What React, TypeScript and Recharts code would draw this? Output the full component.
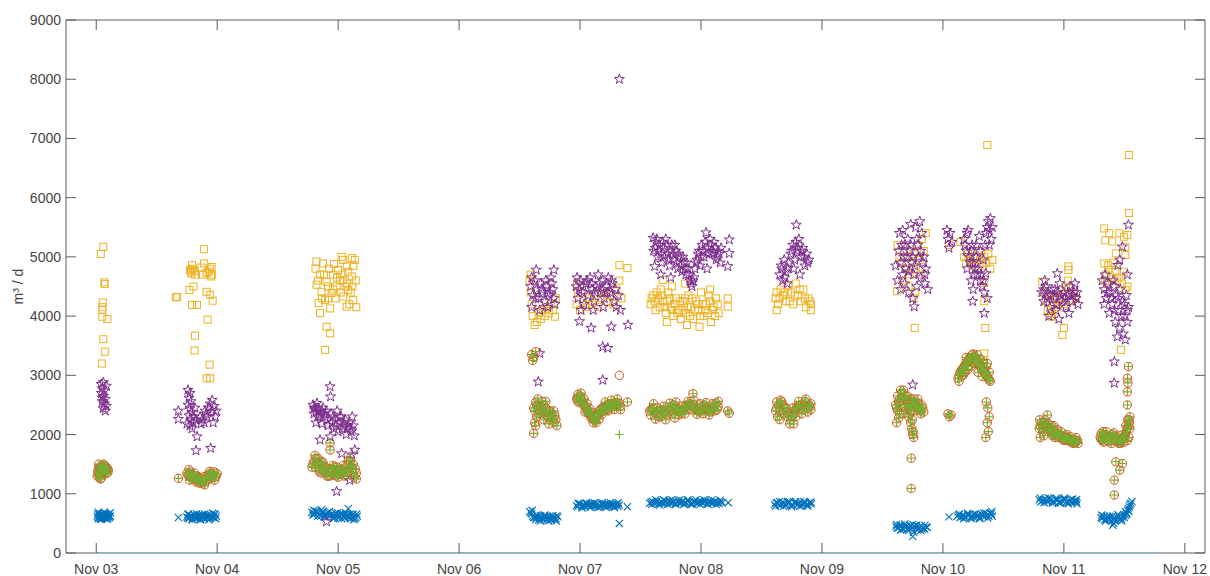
import React from "react";
import { ScatterChart, Scatter, XAxis, YAxis } from "recharts";

// hours are counted from Nov 03 00:00
const dayLabels = ["Nov 03", "Nov 04", "Nov 05", "Nov 06", "Nov 07", "Nov 08", "Nov 09", "Nov 10", "Nov 11", "Nov 12"];
const dayTicks = dayLabels.map((_, i) => i * 24);
const valueTicks = [0, 1000, 2000, 3000, 4000, 5000, 6000, 7000, 8000, 9000];

type Pt = [number, number];

// blue crosses
const flowA: Pt[] = [
  [0.2, 620], [0.4, 600], [0.6, 640], [0.8, 610], [1.0, 590], [1.2, 630], [1.4, 650], [1.6, 600], [1.8, 620], [2.0, 660], [2.2, 610], [2.4, 640], [2.6, 600], [2.8, 680],
  [0.3, 660], [0.5, 580], [0.7, 650], [0.9, 570], [1.1, 660], [1.3, 590], [1.5, 620], [1.7, 660], [1.9, 580], [2.1, 630], [2.3, 590], [2.5, 660], [2.7, 620],
  [0.4, 690], [1.0, 570], [1.6, 690], [2.2, 570], [2.8, 620],
  [16.3, 600], [18.0, 610], [18.4, 580], [18.8, 630], [19.2, 600], [19.6, 620], [20.0, 590], [20.4, 640], [20.8, 610], [21.2, 600], [21.6, 630], [22.0, 590], [22.4, 620], [22.8, 640], [23.2, 600], [23.6, 650],
  [18.2, 650], [18.6, 600], [19.0, 570], [19.4, 650], [19.8, 580], [20.2, 620], [20.6, 570], [21.0, 650], [21.4, 580], [21.8, 600], [22.2, 650], [22.6, 580], [23.0, 610], [23.4, 660], [23.8, 620], [18.1, 590], [19.5, 600], [20.9, 630], [22.3, 610],
  [18.3, 660], [19.1, 560], [19.9, 660], [20.7, 560], [21.5, 660], [22.3, 560], [23.1, 670], [23.7, 580],
  [42.8, 690], [43.3, 660], [43.8, 700], [44.3, 650], [44.8, 680], [45.3, 640], [45.8, 670], [46.3, 620], [46.8, 660], [47.3, 600], [47.8, 640], [48.3, 610], [48.8, 650], [49.3, 590], [49.8, 630], [50.3, 600], [50.8, 640], [51.3, 580], [51.8, 620], [50.0, 750],
  [43.0, 640], [43.5, 700], [44.0, 680], [44.5, 620], [45.0, 700], [45.5, 660], [46.0, 690], [46.5, 640], [47.0, 620], [47.5, 670], [48.0, 590], [48.5, 660], [49.0, 620], [49.5, 650], [50.0, 610], [50.5, 580], [51.0, 660], [51.5, 600], [43.2, 720], [45.2, 610], [47.2, 640], [49.2, 640], [51.0, 600],
  [43.1, 670], [43.9, 620], [44.7, 730], [45.5, 610], [46.3, 700], [47.1, 580], [47.9, 680], [48.7, 580], [49.5, 680], [50.3, 650], [51.1, 560], [51.7, 660],
  [86.0, 700], [86.4, 660], [86.8, 600], [87.2, 560], [87.6, 620], [88.0, 580], [88.4, 600], [88.8, 560], [89.2, 610], [89.6, 580], [90.0, 620], [90.4, 570], [90.8, 600], [91.2, 580], [91.6, 610],
  [86.2, 680], [86.6, 620], [87.0, 600], [87.4, 640], [87.8, 560], [88.2, 630], [88.6, 590], [89.0, 640], [89.4, 560], [89.8, 600], [90.2, 560], [90.6, 630], [91.0, 560], [91.4, 630],
  [86.5, 720], [87.3, 600], [88.1, 540], [88.9, 620], [89.7, 540], [90.5, 610], [91.3, 540],
  [95.3, 800], [95.8, 820], [96.3, 790], [96.8, 810], [97.3, 830], [97.8, 800], [98.3, 790], [98.8, 820], [99.3, 810], [99.8, 800], [100.3, 830], [100.8, 790], [101.3, 810], [101.8, 820], [102.3, 800], [102.8, 790], [103.3, 830], [103.8, 810], [103.8, 500], [105.4, 780],
  [95.5, 780], [96.0, 830], [96.5, 810], [97.0, 780], [97.5, 800], [98.0, 830], [98.5, 820], [99.0, 790], [99.5, 830], [100.0, 780], [100.5, 810], [101.0, 830], [101.5, 790], [102.0, 800], [102.5, 830], [103.0, 810], [103.5, 790],
  [95.6, 840], [96.4, 760], [97.2, 850], [98.0, 770], [98.8, 850], [99.6, 770], [100.4, 850], [101.2, 770], [102.0, 850], [102.8, 770], [103.6, 850],
  [109.8, 840], [110.4, 870], [111.0, 850], [111.6, 830], [112.2, 860], [112.8, 880], [113.4, 850], [114.0, 840], [114.6, 870], [115.2, 860], [115.8, 840], [116.4, 880], [117.0, 850], [117.6, 860], [118.2, 840], [118.8, 870], [119.4, 850], [120.0, 880], [120.6, 860], [121.2, 840], [121.8, 870], [122.4, 850], [123.0, 860], [123.6, 840], [125.4, 850],
  [110.1, 860], [110.7, 840], [111.3, 880], [111.9, 850], [112.5, 830], [113.1, 870], [113.7, 880], [114.3, 850], [114.9, 830], [115.5, 880], [116.1, 850], [116.7, 840], [117.3, 880], [117.9, 830], [118.5, 860], [119.1, 840], [119.7, 870], [120.3, 840], [120.9, 880], [121.5, 860], [122.1, 840], [122.7, 880], [123.3, 850], [123.9, 860], [124.2, 850],
  [110.2, 820], [111.0, 900], [111.8, 810], [112.6, 900], [113.4, 820], [114.2, 900], [115.0, 820], [115.8, 900], [116.6, 820], [117.4, 900], [118.2, 820], [119.0, 900], [119.8, 820], [120.6, 900], [121.4, 820], [122.2, 900], [123.0, 820], [123.8, 890],
  [134.6, 820], [135.2, 850], [135.8, 800], [136.4, 840], [137.0, 820], [137.6, 860], [138.2, 810], [138.8, 840], [139.4, 830], [140.0, 800], [140.6, 850], [141.2, 820], [141.8, 860],
  [134.9, 850], [135.5, 810], [136.1, 860], [136.7, 810], [137.3, 840], [137.9, 800], [138.5, 850], [139.1, 820], [139.7, 860], [140.3, 830], [140.9, 810], [141.5, 850],
  [134.8, 790], [135.6, 870], [136.4, 790], [137.2, 870], [138.0, 780], [138.8, 870], [139.6, 790], [140.4, 870], [141.2, 790], [141.9, 830],
  [158.7, 450], [159.2, 420], [159.7, 470], [160.2, 400], [160.7, 440], [161.2, 380], [161.7, 460], [162.0, 280], [162.2, 350], [162.7, 430], [163.2, 410], [163.7, 460], [164.2, 420], [164.7, 440],
  [158.9, 420], [159.4, 470], [159.9, 410], [160.4, 450], [160.9, 400], [161.4, 460], [161.9, 420], [162.4, 460], [162.9, 390], [163.4, 440], [163.9, 400], [164.4, 470], [164.9, 430],
  [158.8, 480], [159.6, 390], [160.4, 490], [161.2, 420], [162.0, 480], [162.8, 470], [163.6, 380], [164.4, 400],
  [169.2, 610], [170.8, 620], [171.4, 600], [172.0, 640], [172.6, 610], [173.2, 650], [173.8, 620], [174.4, 600], [175.0, 640], [175.6, 660], [176.2, 610], [176.8, 640], [177.4, 680], [177.8, 620],
  [171.1, 640], [171.7, 610], [172.3, 600], [172.9, 640], [173.5, 600], [174.1, 650], [174.7, 620], [175.3, 600], [175.9, 630], [176.5, 670], [177.1, 620], [177.6, 660],
  [171.3, 660], [172.1, 580], [172.9, 670], [173.7, 580], [174.5, 660], [175.3, 580], [176.1, 670], [176.9, 590], [177.7, 700],
  [187.1, 900], [187.7, 880], [188.3, 920], [188.9, 870], [189.5, 900], [190.1, 860], [190.7, 890], [191.3, 870], [191.9, 910], [192.5, 860], [193.1, 880], [193.7, 850], [194.3, 870], [194.6, 830],
  [187.4, 860], [188.0, 900], [188.6, 880], [189.2, 920], [189.8, 870], [190.4, 900], [191.0, 850], [191.6, 890], [192.2, 900], [192.8, 850], [193.4, 900], [194.0, 880], [194.5, 860],
  [187.3, 930], [188.1, 850], [188.9, 930], [189.7, 840], [190.5, 930], [191.3, 840], [192.1, 930], [192.9, 830], [193.7, 910], [194.5, 900],
  [199.4, 600], [199.9, 620], [200.4, 570], [200.9, 590], [201.4, 540], [201.7, 470], [202.0, 600], [202.4, 560], [202.9, 620], [203.4, 580], [203.9, 640], [204.2, 700], [204.5, 660], [204.8, 750], [205.1, 820], [205.5, 870],
  [199.6, 580], [200.1, 560], [200.6, 620], [201.1, 560], [201.6, 620], [202.2, 540], [202.6, 600], [203.1, 560], [203.6, 610], [204.0, 600], [204.4, 680], [204.7, 720], [205.0, 780], [205.3, 840], [201.9, 500],
  [199.5, 640], [200.3, 540], [201.1, 620], [201.9, 560], [202.7, 650], [203.5, 540], [204.3, 640], [204.9, 700],
];

// orange circles and green pluses share most readings
const flowBC: Pt[] = [
  [0.2, 1300], [0.4, 1350], [0.6, 1420], [0.8, 1450], [1.0, 1400], [1.2, 1380], [1.4, 1440], [1.6, 1470], [1.8, 1420], [2.0, 1390], [2.2, 1430], [2.4, 1400], [1.0, 1260], [0.6, 1280],
  [0.3, 1380], [0.5, 1440], [0.7, 1330], [0.9, 1390], [1.1, 1470], [1.3, 1350], [1.5, 1400], [1.7, 1380], [1.9, 1460], [2.1, 1420], [2.3, 1360],
  [0.5, 1500], [1.0, 1330], [1.5, 1500], [2.0, 1340], [0.8, 1250],
  [16.3, 1260], [18.4, 1410], [18.0, 1350], [18.4, 1300], [18.8, 1280], [19.2, 1320], [19.6, 1250], [20.0, 1220], [20.4, 1180], [20.8, 1200], [21.2, 1240], [21.6, 1190], [22.0, 1260], [22.4, 1300], [22.8, 1350], [23.2, 1320], [23.6, 1280], [24.0, 1340], [22.6, 1250], [21.4, 1290],
  [18.2, 1320], [18.6, 1370], [19.0, 1250], [19.4, 1300], [19.8, 1200], [20.2, 1260], [20.6, 1230], [21.0, 1180], [21.8, 1230], [22.2, 1330], [22.8, 1280], [23.4, 1370], [23.8, 1300],
  [18.5, 1230], [19.5, 1350], [20.5, 1280], [21.5, 1150], [22.5, 1380], [23.5, 1230], [20.0, 1300],
  [42.8, 1450], [43.2, 1550], [43.6, 1600], [44.0, 1500], [44.4, 1420], [44.8, 1480], [45.2, 1380], [45.6, 1350], [46.0, 1420], [46.4, 1300], [46.8, 1380], [47.2, 1450], [47.6, 1400], [48.0, 1330], [48.4, 1380], [48.8, 1420], [49.2, 1300], [49.6, 1360], [50.0, 1480], [50.4, 1550], [50.8, 1420], [51.2, 1280], [51.6, 1350], [46.4, 1740], [46.4, 1860],
  [43.0, 1500], [43.4, 1450], [43.8, 1520], [44.2, 1380], [44.6, 1550], [45.0, 1420], [45.4, 1450], [45.8, 1300], [46.2, 1370], [46.6, 1420], [47.0, 1320], [47.4, 1350], [47.8, 1450], [48.2, 1400], [48.6, 1330], [49.0, 1370], [49.4, 1410], [49.8, 1300], [50.2, 1380], [50.6, 1450], [51.0, 1350], [51.4, 1420],
  [43.4, 1650], [44.0, 1600], [45.0, 1530], [46.0, 1300], [47.0, 1480], [48.0, 1280], [49.0, 1480], [50.0, 1560], [50.4, 1600], [51.0, 1500], [51.6, 1250], [44.6, 1350], [47.6, 1300],
  [86.4, 3350], [86.6, 3250], [86.8, 3300], [87.2, 3400],
  [86.8, 2450], [87.2, 2550], [87.6, 2500], [88.0, 2400], [88.4, 2350], [88.8, 2500], [89.2, 2450], [89.6, 2300], [90.0, 2250], [90.4, 2350], [90.8, 2200], [91.2, 2250], [87.0, 2200], [87.4, 2300], [86.8, 2020],
  [87.0, 2400], [87.4, 2480], [87.8, 2350], [88.2, 2480], [88.6, 2420], [89.0, 2380], [89.4, 2330], [89.8, 2400], [90.2, 2300], [90.6, 2280], [91.0, 2320],
  [87.6, 2600], [88.4, 2560], [89.2, 2560], [90.0, 2400], [90.8, 2400], [88.8, 2250], [89.8, 2180], [87.2, 2150], [91.4, 2150],
  [95.3, 2600], [95.6, 2680], [96.0, 2650], [96.4, 2580], [96.8, 2520], [97.2, 2450], [97.6, 2400], [98.0, 2330], [98.4, 2280], [98.8, 2250], [99.2, 2300], [99.6, 2350], [100.0, 2420], [100.4, 2450], [100.8, 2400], [101.2, 2480], [101.6, 2500], [102.0, 2450], [102.4, 2520], [102.8, 2500], [103.2, 2540], [103.6, 2500], [104.0, 2480], [105.4, 2550],
  [95.5, 2620], [95.8, 2560], [96.2, 2600], [96.6, 2500], [97.0, 2480], [97.4, 2380], [97.8, 2350], [98.2, 2280], [98.6, 2320], [99.0, 2230], [99.4, 2320], [99.8, 2400], [100.2, 2380], [100.6, 2460], [101.0, 2440], [101.4, 2420], [101.8, 2520], [102.2, 2470], [102.6, 2480], [103.0, 2520], [103.4, 2480], [103.8, 2530],
  [95.6, 2550], [96.2, 2700], [96.8, 2600], [97.4, 2520], [98.0, 2430], [98.6, 2200], [99.2, 2200], [99.8, 2260], [100.4, 2350], [101.0, 2550], [101.6, 2400], [102.2, 2580], [102.8, 2420], [103.4, 2600], [104.0, 2420], [97.0, 2380], [98.2, 2380],
  [109.8, 2400], [110.4, 2450], [111.0, 2380], [111.6, 2300], [112.2, 2420], [112.8, 2350], [113.4, 2460], [114.0, 2400], [114.6, 2500], [115.2, 2450], [115.8, 2380], [116.4, 2420], [117.0, 2470], [117.6, 2520], [118.2, 2480], [118.4, 2690], [118.8, 2440], [119.4, 2400], [120.0, 2460], [120.6, 2500], [121.2, 2420], [121.8, 2380], [122.4, 2450], [123.0, 2530], [123.4, 2470], [125.3, 2400], [125.6, 2360], [113.0, 2250], [114.8, 2280], [111.0, 2260],
  [110.1, 2420], [110.7, 2380], [111.3, 2350], [111.9, 2400], [112.5, 2380], [113.1, 2400], [113.7, 2420], [114.3, 2460], [114.9, 2430], [115.5, 2400], [116.1, 2350], [116.7, 2450], [117.3, 2430], [117.9, 2480], [118.5, 2500], [119.1, 2420], [119.7, 2380], [120.3, 2420], [120.9, 2450], [121.5, 2400], [122.1, 2410], [122.7, 2480], [123.2, 2420],
  [110.0, 2330], [110.6, 2520], [111.4, 2450], [112.0, 2300], [112.6, 2480], [113.2, 2330], [113.8, 2530], [114.4, 2350], [115.0, 2550], [115.6, 2330], [116.2, 2480], [116.8, 2350], [117.4, 2560], [118.0, 2420], [118.6, 2580], [119.2, 2340], [119.8, 2520], [120.4, 2350], [121.0, 2540], [121.6, 2330], [122.2, 2520], [122.8, 2400], [123.4, 2560],
  [134.8, 2400], [135.4, 2500], [136.0, 2550], [136.6, 2450], [137.2, 2300], [137.8, 2250], [138.4, 2350], [138.4, 2180], [139.0, 2450], [139.6, 2500], [140.2, 2420], [140.8, 2600], [141.4, 2500], [141.8, 2420], [135.2, 2300], [135.6, 2250],
  [135.0, 2450], [135.7, 2400], [136.3, 2500], [136.9, 2380], [137.5, 2350], [138.1, 2300], [138.7, 2400], [139.3, 2480], [139.9, 2450], [140.5, 2500], [141.1, 2450], [141.6, 2480],
  [135.0, 2550], [135.8, 2580], [136.4, 2350], [137.0, 2450], [137.6, 2180], [138.2, 2450], [138.8, 2300], [139.4, 2560], [140.0, 2350], [140.6, 2560], [141.2, 2380], [141.8, 2520],
  [158.6, 2500], [159.0, 2400], [159.4, 2600], [159.8, 2700], [160.2, 2750], [160.6, 2650], [161.0, 2550], [161.4, 2450], [161.8, 2500], [162.2, 2600], [162.6, 2550], [163.0, 2450], [163.4, 2400], [163.8, 2500], [164.2, 2380], [161.2, 2300], [161.6, 2200], [161.8, 2100], [162.0, 2000], [162.2, 1950], [158.8, 2200], [159.2, 2280], [161.7, 1600], [161.7, 1090],
  [158.8, 2450], [159.2, 2550], [159.6, 2500], [160.0, 2620], [160.4, 2600], [160.8, 2500], [161.2, 2480], [161.6, 2400], [162.0, 2550], [162.4, 2500], [162.8, 2480], [163.2, 2520], [163.6, 2430], [161.4, 2350], [161.9, 2250], [162.1, 2050],
  [159.0, 2650], [159.6, 2750], [160.4, 2450], [161.0, 2650], [161.6, 2600], [162.4, 2400], [163.0, 2600], [163.6, 2350], [164.0, 2450], [160.2, 2350], [159.4, 2350],
  [169.0, 2350], [169.3, 2300], [169.6, 2330],
  [171.0, 2950], [171.4, 3050], [171.8, 3100], [172.2, 3150], [172.6, 3200], [173.0, 3250], [173.4, 3300], [173.8, 3350], [174.2, 3320], [174.6, 3250], [175.0, 3200], [175.4, 3150], [175.8, 3100], [176.2, 3050], [176.6, 3000], [177.0, 2950], [177.4, 2900], [172.0, 3000], [176.8, 3200],
  [171.2, 3000], [171.6, 3080], [172.0, 3120], [172.4, 3180], [172.8, 3230], [173.2, 3280], [173.6, 3300], [174.0, 3360], [174.4, 3300], [174.8, 3230], [175.2, 3180], [175.6, 3120], [176.0, 3080], [176.4, 3020], [176.8, 2980], [177.2, 2920], [173.0, 3150], [175.0, 3050], [176.0, 3250],
  [171.2, 2900], [171.8, 3000], [172.4, 3050], [173.0, 3100], [173.6, 3150], [174.2, 3200], [174.8, 3350], [175.4, 3280], [176.0, 3200], [176.6, 3150], [177.2, 3050], [174.0, 3250], [172.6, 3300], [175.8, 2980],
  [176.6, 2550], [176.9, 2450], [177.2, 2300], [176.8, 2200], [177.0, 2050], [176.5, 1950],
  [187.1, 2100], [187.5, 2200], [187.9, 2150], [188.3, 2250], [188.7, 2330], [189.1, 2100], [189.5, 2050], [189.9, 2000], [190.3, 2050], [190.7, 1980], [191.1, 2000], [191.5, 1950], [191.9, 1980], [192.3, 1920], [192.7, 1950], [193.1, 1900], [193.5, 1880], [193.9, 1920], [194.3, 1870], [194.7, 1900], [187.3, 1950], [188.0, 1980], [190.0, 2150],
  [187.3, 2150], [187.7, 2100], [188.1, 2200], [188.5, 2150], [188.9, 2050], [189.3, 2080], [189.7, 1980], [190.1, 2000], [190.5, 2020], [190.9, 1950], [191.3, 1980], [191.7, 1920], [192.1, 1950], [192.5, 1900], [192.9, 1920], [193.3, 1880], [193.7, 1900], [194.1, 1860], [194.5, 1880],
  [187.2, 2250], [187.8, 2050], [188.4, 2100], [189.0, 2180], [189.6, 2150], [190.2, 1950], [190.8, 2080], [191.4, 2050], [192.0, 1900], [192.6, 2000], [193.2, 1970], [193.8, 1850], [194.4, 1950], [194.8, 1850],
  [204.8, 3150], [204.6, 2950], [204.7, 2870], [204.6, 2720], [204.6, 2500],
  [199.2, 1950], [199.6, 1900], [200.0, 2000], [200.4, 1950], [200.8, 1880], [201.2, 1920], [201.6, 2000], [202.0, 1950], [202.4, 1880], [202.8, 1900], [203.2, 1850], [203.6, 1920], [204.0, 1950], [204.4, 2050], [204.8, 2150], [205.0, 2200], [204.6, 1900], [199.8, 2050],
  [199.4, 1920], [199.8, 1980], [200.2, 1950], [200.6, 1900], [201.0, 1960], [201.4, 1900], [201.8, 1950], [202.2, 1900], [202.6, 1930], [203.0, 1880], [203.4, 1900], [203.8, 1960], [204.2, 2000], [204.6, 2100], [204.9, 2250], [205.1, 2100],
  [199.4, 2020], [199.9, 1870], [200.4, 2050], [200.9, 1980], [201.4, 1850], [201.9, 2030], [202.4, 1980], [202.9, 1850], [203.4, 1990], [203.9, 1870], [204.3, 2150], [204.7, 2250], [205.1, 2300], [204.9, 1950],
  [202.3, 1540], [203.6, 1510], [203.1, 1400], [202.0, 1230], [202.0, 980],
];
const flowBOnly: Pt[] = [[103.8, 3000]];
const flowCOnly: Pt[] = [[103.8, 2000]];

// yellow squares
const flowD: Pt[] = [
  [1.4, 5170], [0.9, 5050], [1.6, 4570], [1.7, 4540], [1.3, 4230], [1.2, 4150], [1.2, 4100], [1.2, 3990], [2.2, 3950], [1.4, 3610], [1.7, 3400], [1.1, 3200],
  [21.4, 5130], [19.0, 4860], [21.4, 4890], [22.9, 4830], [18.8, 4750], [19.6, 4700], [21.9, 4730], [22.8, 4670], [19.3, 4500], [18.5, 4440], [21.9, 4410], [22.6, 4360], [23.1, 4260], [16.1, 4320], [15.8, 4320], [19.0, 4190], [20.0, 4190], [22.1, 3940], [19.6, 3670], [19.5, 3420], [22.5, 3180], [21.9, 2950], [22.6, 2950],
  [18.6, 4780], [18.9, 4720], [19.2, 4800], [19.5, 4760], [20.9, 4820], [21.2, 4700], [22.3, 4750], [22.6, 4800], [23.0, 4700],
  [48.7, 5000], [50.7, 4980], [51.3, 4950], [43.7, 4920], [45.0, 4890], [49.7, 4840], [48.0, 4780], [47.0, 4700], [44.4, 4700], [50.7, 4670], [49.0, 4610], [45.7, 4580], [43.7, 4530], [47.7, 4500], [50.0, 4440], [44.7, 4410], [46.7, 4390], [49.0, 4330], [51.0, 4270], [45.4, 4270], [44.1, 4220], [46.4, 4130], [49.7, 4160], [44.4, 4050], [45.7, 3820], [46.4, 3710], [45.4, 3430],
  [47.2, 4880], [48.4, 4600], [49.5, 4500], [50.5, 4400], [51.5, 4600], [46.0, 4500], [44.8, 4300], [47.5, 4300], [50.2, 4200], [51.6, 4150], [43.5, 4800], [49.0, 4950], [50.0, 4750], [51.0, 4850],
  [44.0, 4600], [45.2, 4700], [46.2, 4800], [47.8, 4650], [48.8, 4700], [49.8, 4550], [50.8, 4500], [47.0, 4450], [46.0, 4300], [48.5, 4400],
  [86.0, 4600], [86.2, 4400], [86.4, 4200], [86.6, 4000], [87.0, 3850], [87.4, 3900], [87.8, 4050], [88.2, 3950], [88.6, 4100], [89.0, 4000], [89.4, 4150], [89.8, 4050], [90.2, 4200], [90.6, 4100], [91.0, 3990], [91.2, 4300], [86.2, 4700],
  [95.3, 4200], [95.6, 4400], [96.0, 4100], [96.6, 4250], [97.2, 4150], [97.8, 4300], [98.4, 4200], [99.0, 4350], [99.6, 4150], [100.2, 4300], [100.8, 4400], [101.4, 4250], [102.0, 4350], [102.6, 4200], [103.2, 4450], [103.8, 4600], [103.8, 4860], [105.4, 4810], [95.4, 4550], [104.2, 4300],
  [110.0, 4200], [110.5, 4350], [111.0, 4100], [111.5, 4300], [112.0, 4450], [112.5, 4250], [113.0, 4050], [113.5, 4400], [114.0, 4150], [114.5, 4000], [115.0, 4300], [115.5, 4100], [116.0, 3950], [116.5, 4250], [117.0, 4050], [117.5, 4350], [118.0, 4150], [118.5, 3950], [119.0, 4250], [119.5, 4100], [120.0, 4400], [120.5, 4000], [121.0, 4200], [121.5, 4350], [122.0, 3900], [122.5, 4150], [123.0, 4300], [123.5, 4050], [112.4, 4610], [119.7, 3820], [125.3, 4300], [125.3, 4160], [114.2, 4500], [116.8, 4550], [121.8, 4450], [113.2, 3900], [117.2, 3850],
  [110.2, 4300], [110.8, 4250], [111.2, 4400], [111.8, 4150], [112.2, 4350], [112.8, 4150], [113.3, 4250], [113.8, 4300], [114.3, 4100], [114.8, 4200], [115.3, 4050], [115.8, 4250], [116.3, 4100], [116.8, 4300], [117.3, 4150], [117.8, 4000], [118.3, 4300], [118.8, 4100], [119.3, 4200], [119.8, 4000], [120.3, 4200], [120.8, 4100], [121.3, 4050], [121.8, 4250], [122.3, 4100], [122.8, 4000], [123.3, 4200],
  [134.8, 4300], [135.3, 4200], [135.8, 4450], [136.3, 4350], [136.8, 4250], [137.3, 4500], [137.8, 4400], [138.3, 4200], [138.8, 4550], [139.3, 4350], [139.8, 4250], [140.3, 4450], [140.8, 4150], [141.3, 4300], [141.8, 4100], [141.8, 4200], [135.0, 4100],
  [135.0, 4400], [135.6, 4300], [136.6, 4400], [137.6, 4250], [138.6, 4350], [139.6, 4450], [140.6, 4300], [141.6, 4250],
  [159.0, 5200], [159.4, 5000], [159.8, 4900], [160.2, 5100], [160.6, 4800], [161.0, 5000], [161.4, 4700], [161.8, 4900], [162.2, 5050], [162.6, 4800], [163.0, 5200], [163.4, 4950], [163.8, 5300], [164.2, 5100], [164.6, 5400], [160.0, 4600], [161.2, 4500], [158.9, 4420], [162.5, 4400], [162.2, 4300], [162.4, 3800], [163.6, 4700],
  [176.8, 6890], [169.2, 5200], [172.2, 5000], [172.6, 4900], [173.0, 5050], [173.4, 4950], [173.8, 4850], [174.2, 5000], [174.6, 4900], [175.0, 5100], [175.4, 4950], [175.8, 4850], [176.2, 5000], [176.6, 4900], [177.0, 5050], [177.4, 4800], [177.8, 4950], [171.5, 5250], [176.2, 4560], [176.2, 4250], [176.4, 3800], [176.2, 3370],
  [188.0, 4400], [188.4, 4250], [188.8, 4100], [189.2, 4300], [189.6, 4050], [190.0, 4200], [190.4, 4350], [190.8, 4150], [191.2, 4300], [191.6, 4450], [192.0, 4200], [192.4, 4500], [192.8, 4600], [193.2, 4350], [193.6, 4250], [194.0, 4400], [194.4, 4300], [192.9, 4840], [192.9, 4780], [187.7, 4580], [192.0, 3800], [191.7, 3680], [189.7, 3990], [189.4, 4000],
  [204.9, 6720], [204.9, 5740], [200.0, 5480], [201.0, 5400], [203.0, 5400], [204.6, 5370], [200.2, 5280], [201.6, 5260], [203.9, 5340], [204.2, 5170], [202.3, 5060], [204.2, 5030], [200.0, 4890], [200.8, 4860], [203.9, 4750], [200.4, 4700], [201.0, 4780], [204.6, 4500], [204.2, 4440], [200.2, 4600], [200.6, 4550], [201.4, 4650], [201.8, 4900], [202.2, 4750], [202.6, 4600], [203.0, 4650], [203.5, 4550], [203.3, 3430],
];

// purple stars
const flowE: Pt[] = [
  [1.0, 2850], [1.4, 2880], [2.0, 2820], [1.2, 2780], [1.6, 2740], [1.0, 2700], [1.4, 2650], [1.8, 2600], [1.2, 2560], [1.6, 2520], [2.0, 2480], [1.4, 2440], [1.8, 2400], [1.2, 2620],
  [16.3, 2400], [16.3, 2260],
  [18.2, 2750], [18.6, 2700], [18.4, 2620], [18.8, 2560], [18.2, 2500], [18.6, 2440], [19.0, 2380], [18.4, 2320], [18.8, 2260], [19.2, 2200], [18.6, 2150], [19.0, 2100], [19.4, 2300], [19.6, 2450], [18.0, 2180], [19.8, 2250],
  [20.6, 2300], [21.0, 2250], [21.4, 2200], [21.8, 2350], [22.2, 2450], [22.6, 2520], [23.0, 2580], [23.4, 2480], [23.8, 2400], [22.0, 2300], [21.6, 2400], [22.8, 2380], [23.2, 2200], [20.8, 2180], [23.6, 2300],
  [20.0, 1965], [19.8, 1730], [22.7, 1770],
  [46.4, 2810], [46.5, 2640],
  [43.0, 2500], [43.4, 2450], [43.8, 2530], [44.2, 2400], [44.6, 2350], [45.0, 2450], [45.4, 2300], [45.8, 2250], [43.6, 2200], [44.0, 2300], [44.8, 2180], [45.6, 2400], [46.0, 2150], [43.2, 2350],
  [43.2, 2450], [43.6, 2400], [44.0, 2450], [44.4, 2300], [44.8, 2400], [45.2, 2350], [46.8, 2200], [47.6, 2150], [48.4, 2300], [49.2, 2200], [50.0, 2150], [50.4, 2100], [48.8, 2100],
  [46.6, 2350], [47.0, 2300], [47.4, 2250], [47.8, 2400], [48.2, 2200], [48.6, 2300], [49.0, 2150], [49.4, 2250], [49.8, 2100], [50.2, 2200], [50.6, 2050], [51.0, 2150], [47.2, 2100], [48.0, 2050], [49.6, 2000], [50.8, 2300], [51.2, 1980],
  [44.4, 1910], [46.4, 1965], [48.7, 1680], [50.7, 1660], [51.3, 1740], [47.7, 1040], [50.3, 1230], [45.7, 530],
  [87.3, 4780], [90.8, 4780], [86.2, 4500], [86.6, 4350], [87.0, 4600], [87.4, 4450], [87.8, 4300], [88.2, 4550], [88.6, 4400], [89.0, 4250], [89.4, 4500], [89.8, 4350], [90.2, 4650], [90.6, 4450], [91.0, 4200], [86.4, 4150], [88.0, 4100], [89.6, 4150], [90.4, 4550], [88.0, 3370], [87.7, 2890],
  [86.4, 4650], [87.2, 4300], [88.4, 4450], [89.2, 4600], [90.0, 4400], [90.8, 4300],
  [95.2, 4500], [95.6, 4300], [96.0, 4600], [96.4, 4400], [96.8, 4200], [97.2, 4550], [97.6, 4350], [98.0, 4650], [98.4, 4450], [98.8, 4250], [99.2, 4500], [99.6, 4700], [100.0, 4400], [100.4, 4600], [100.8, 4300], [101.2, 4500], [101.6, 4650], [102.0, 4400], [102.4, 4550], [102.8, 4250], [103.2, 4150], [103.6, 4350], [104.0, 4100], [96.2, 4100], [98.6, 4100], [100.6, 4150],
  [95.4, 4650], [95.8, 4450], [96.6, 4500], [97.4, 4600], [98.2, 4550], [99.0, 4400], [99.8, 4550], [100.6, 4450], [101.4, 4400], [102.2, 4600], [103.0, 4450],
  [95.9, 3910], [98.2, 3800], [102.2, 3820], [105.5, 3850], [100.5, 3480], [101.5, 3460], [100.5, 2920], [103.8, 8000],
  [110.5, 5320], [110.8, 4840], [110.6, 5100], [111.0, 5250], [111.4, 5000], [111.8, 5200], [112.2, 4900], [112.6, 5150], [113.0, 5300], [113.4, 5050], [113.8, 4850], [114.2, 5200], [114.6, 4950], [115.0, 5100], [115.4, 4800], [115.8, 5000], [116.2, 4750], [116.6, 4900], [117.0, 4700], [117.4, 4800], [117.8, 4600], [118.2, 4500], [118.6, 4650], [119.0, 4900], [119.4, 5050], [119.8, 4850], [120.2, 5200], [120.6, 5000], [121.0, 5410], [121.4, 5150], [121.8, 5300], [122.2, 5050], [122.6, 5250], [123.0, 4950], [123.4, 5100], [123.8, 4900], [124.0, 5150], [112.0, 4700], [114.0, 4650], [121.2, 4800], [125.6, 5290], [125.6, 5060], [125.3, 4840],
  [110.9, 5150], [111.2, 5300], [111.6, 5100], [112.0, 5050], [112.4, 5250], [112.8, 5000], [113.2, 5200], [113.6, 4950], [114.0, 5100], [114.4, 5050], [114.8, 5200], [115.2, 4900], [115.6, 5050], [116.0, 4850], [116.4, 5000], [116.8, 4800], [117.2, 4900], [117.6, 4700], [118.0, 4550], [118.4, 4600], [118.8, 4800], [119.2, 4950], [119.6, 5100], [120.0, 5000], [120.4, 5100], [120.8, 5250], [121.6, 5050], [122.0, 5200], [122.4, 5100], [122.8, 5150], [123.2, 5000], [123.6, 5050],
  [138.9, 5540], [135.6, 4700], [135.9, 4850], [136.2, 4600], [136.5, 4950], [136.8, 4750], [137.1, 4550], [137.4, 4900], [137.8, 5050], [138.2, 5200], [138.6, 4950], [139.0, 5100], [139.4, 5300], [139.8, 5000], [140.2, 5150], [140.6, 4850], [141.0, 5050], [141.4, 4950], [138.4, 4800], [139.6, 4700],
  [136.0, 4800], [136.6, 4650], [137.2, 4800], [138.0, 5100], [138.8, 5250], [139.2, 5150], [140.0, 5100], [140.4, 5000], [141.2, 4900],
  [159.4, 5400], [159.8, 5200], [160.2, 5000], [160.6, 4800], [161.0, 5300], [161.4, 5100], [161.8, 4900], [162.2, 4700], [162.6, 5500], [163.0, 5200], [163.4, 5600], [163.8, 5400], [164.2, 5000], [164.6, 4800], [159.0, 4600], [159.6, 4450], [160.4, 4550], [161.2, 4400], [162.0, 4300], [162.8, 4500], [163.6, 4650], [164.4, 4550], [165.0, 4450], [162.3, 4160], [158.6, 4850], [161.6, 5550], [160.0, 5450], [162.0, 2840],
  [159.2, 5100], [159.6, 4900], [160.0, 4700], [160.4, 5200], [160.8, 5000], [161.2, 4750], [161.6, 5200], [162.0, 5000], [162.4, 4850], [162.8, 5300], [163.2, 5000], [163.6, 5100], [164.0, 4900], [164.4, 4700],
  [168.8, 5450], [169.0, 5300], [169.4, 5400], [169.8, 5250], [169.2, 5150],
  [172.2, 5300], [172.6, 5100], [173.0, 5450], [173.4, 4900], [173.8, 5200], [174.2, 4700], [174.6, 5000], [175.0, 4800], [175.4, 4600], [175.8, 4500], [176.2, 4400], [176.6, 5400], [177.0, 5600], [177.4, 5650], [177.8, 5500], [177.2, 5200], [174.0, 4450], [173.6, 4600], [172.8, 4800], [175.2, 5350], [176.0, 4950], [176.8, 4300], [173.9, 4250], [176.2, 4050], [176.5, 4720],
  [172.4, 5200], [172.8, 5400], [173.2, 5000], [173.6, 5100], [174.0, 4900], [174.4, 4800], [174.8, 4700], [175.6, 4700], [176.0, 4600], [176.4, 5200], [176.8, 5500], [177.2, 5450], [177.6, 5300], [175.4, 5100], [174.6, 5200],
  [190.7, 4720], [187.6, 4400], [188.0, 4250], [188.4, 4500], [188.8, 4350], [189.2, 4150], [189.6, 4450], [190.0, 4300], [190.4, 4100], [190.8, 4400], [191.2, 4550], [191.6, 4250], [192.0, 4400], [192.4, 4150], [192.8, 4350], [193.2, 4500], [193.6, 4250], [194.0, 4400], [194.4, 4300], [194.8, 4200], [189.0, 4000], [191.0, 3950], [193.0, 4050], [188.2, 4600], [194.2, 4550],
  [188.0, 4450], [188.6, 4300], [189.4, 4350], [190.2, 4450], [190.6, 4200], [191.4, 4350], [192.2, 4300], [193.0, 4400], [193.8, 4350], [194.6, 4400],
  [204.8, 5540], [203.6, 5170], [203.1, 4950], [202.7, 4860], [199.6, 4600], [200.0, 4450], [200.4, 4300], [200.8, 4550], [201.2, 4400], [201.6, 4200], [202.0, 4500], [202.4, 4350], [202.8, 4100], [203.2, 4450], [203.6, 4250], [204.0, 4000], [204.4, 4350], [204.8, 4150], [200.2, 4700], [201.0, 4050], [202.2, 3900], [203.0, 3800], [203.8, 3700], [204.6, 3900], [204.2, 3600], [202.6, 3650], [202.0, 3230], [202.0, 2870], [204.6, 4700],
  [200.0, 4200], [200.6, 4400], [201.4, 4300], [202.0, 4100], [202.8, 4300], [203.4, 4000], [204.0, 4200], [204.6, 4100], [201.8, 4600],
];

// sixth channel sat at zero for the whole run
const flowF: Pt[] = [[0, 0], [211.5, 0]];

const toRows = (pts: Pt[]) => pts.map(([h, v]) => ({ h, v }));

const FONT = '"Liberation Sans", Arial, sans-serif';
const AXIS = "#5c5c5c";
const TEXT = "#444";
const TICK = 10;
// plot box edges in px, used for the inward tick marks
const BOX = { left: 66, right: 1205, top: 20, bottom: 553 };

const STAR = Array.from({ length: 10 }, (_, i) => {
  const r = i % 2 === 0 ? 5.3 : 2.1;
  const a = -Math.PI / 2 + (i * Math.PI) / 5;
  return [r * Math.cos(a), r * Math.sin(a)];
});

const crossShape = (color: string) => (p: any) => {
  const { cx, cy } = p;
  const s = 3.6;
  return <path d={`M${cx - s},${cy - s}L${cx + s},${cy + s}M${cx - s},${cy + s}L${cx + s},${cy - s}`} stroke={color} strokeWidth={1.1} fill="none" />;
};
const circleShape = (color: string) => (p: any) => <circle cx={p.cx} cy={p.cy} r={4.2} stroke={color} strokeWidth={1} fill="none" />;
const plusShape = (color: string) => (p: any) => {
  const { cx, cy } = p;
  const s = 4.2;
  return <path d={`M${cx - s},${cy}L${cx + s},${cy}M${cx},${cy - s}L${cx},${cy + s}`} stroke={color} strokeWidth={1.1} fill="none" />;
};
const squareShape = (color: string) => (p: any) => <rect x={p.cx - 3.5} y={p.cy - 3.5} width={7} height={7} stroke={color} strokeWidth={1} fill="none" />;
const starShape = (color: string) => (p: any) => {
  const d = STAR.map(([dx, dy], i) => `${i === 0 ? "M" : "L"}${p.cx + dx},${p.cy + dy}`).join("") + "Z";
  return <path d={d} stroke={color} strokeWidth={1} fill="none" />;
};
const noShape = () => <g />;

const BottomTick = (props: any) => {
  const { x, payload } = props;
  return (
    <g>
      <line x1={x} y1={BOX.bottom} x2={x} y2={BOX.bottom - TICK} stroke={AXIS} />
      <line x1={x} y1={BOX.top} x2={x} y2={BOX.top + TICK} stroke={AXIS} />
      <text x={x} y={BOX.bottom + 21} textAnchor="middle" fill={TEXT} fontSize={14} fontFamily={FONT}>
        {dayLabels[Math.round(payload.value / 24)]}
      </text>
    </g>
  );
};
const LeftTick = (props: any) => {
  const { y, payload } = props;
  return (
    <g>
      <line x1={BOX.left} y1={y} x2={BOX.left + TICK} y2={y} stroke={AXIS} />
      <line x1={BOX.right} y1={y} x2={BOX.right - TICK} y2={y} stroke={AXIS} />
      <text x={BOX.left - 5} y={y + 5} textAnchor="end" fill={TEXT} fontSize={14} fontFamily={FONT}>
        {payload.value}
      </text>
    </g>
  );
};
const NoTick = () => <g />;

export default function App() {
  return (
    <div style={{ position: "absolute", left: 0, top: 0, width: 1210, height: 576, background: "#fff" }}>
      <ScatterChart width={1210} height={576} margin={{ top: 19, right: 4, bottom: 0, left: 0 }}>
        <XAxis
          xAxisId="main"
          type="number"
          dataKey="h"
          domain={[-6, 220]}
          ticks={dayTicks}
          height={23}
          tickLine={false}
          axisLine={{ stroke: AXIS }}
          tick={BottomTick}
          allowDataOverflow
        />
        <XAxis
          xAxisId="top"
          orientation="top"
          type="number"
          dataKey="h"
          domain={[-6, 220]}
          ticks={dayTicks}
          height={1}
          tickLine={false}
          axisLine={{ stroke: AXIS }}
          tick={NoTick}
          allowDataOverflow
        />
        <YAxis
          yAxisId="main"
          type="number"
          dataKey="v"
          domain={[0, 9000]}
          ticks={valueTicks}
          width={66}
          tickLine={false}
          axisLine={{ stroke: AXIS }}
          tick={LeftTick}
          allowDataOverflow
          label={{ value: "m³ / d", angle: -90, position: "insideLeft", offset: 18, style: { textAnchor: "middle", fill: TEXT, fontSize: 14, fontFamily: FONT } }}
        />
        <YAxis
          yAxisId="right"
          orientation="right"
          type="number"
          dataKey="v"
          domain={[0, 9000]}
          ticks={valueTicks}
          width={1}
          tickLine={false}
          axisLine={{ stroke: AXIS }}
          tick={NoTick}
          allowDataOverflow
        />
        <Scatter xAxisId="main" yAxisId="main" data={toRows(flowA)} shape={crossShape("#0072BD")} isAnimationActive={false} />
        <Scatter xAxisId="main" yAxisId="main" data={toRows([...flowBC, ...flowBOnly])} shape={circleShape("#D95319")} isAnimationActive={false} />
        <Scatter xAxisId="main" yAxisId="main" data={toRows(flowD)} shape={squareShape("#EDB120")} isAnimationActive={false} />
        <Scatter xAxisId="main" yAxisId="main" data={toRows(flowE)} shape={starShape("#7E2F8E")} isAnimationActive={false} />
        <Scatter xAxisId="main" yAxisId="main" data={toRows([...flowBC, ...flowCOnly])} shape={plusShape("#77AC30")} isAnimationActive={false} />
        <Scatter
          xAxisId="top"
          yAxisId="right"
          data={toRows(flowF)}
          shape={noShape}
          line={{ stroke: "#4DBEEE", strokeWidth: 1 }}
          isAnimationActive={false}
        />
      </ScatterChart>
    </div>
  );
}
